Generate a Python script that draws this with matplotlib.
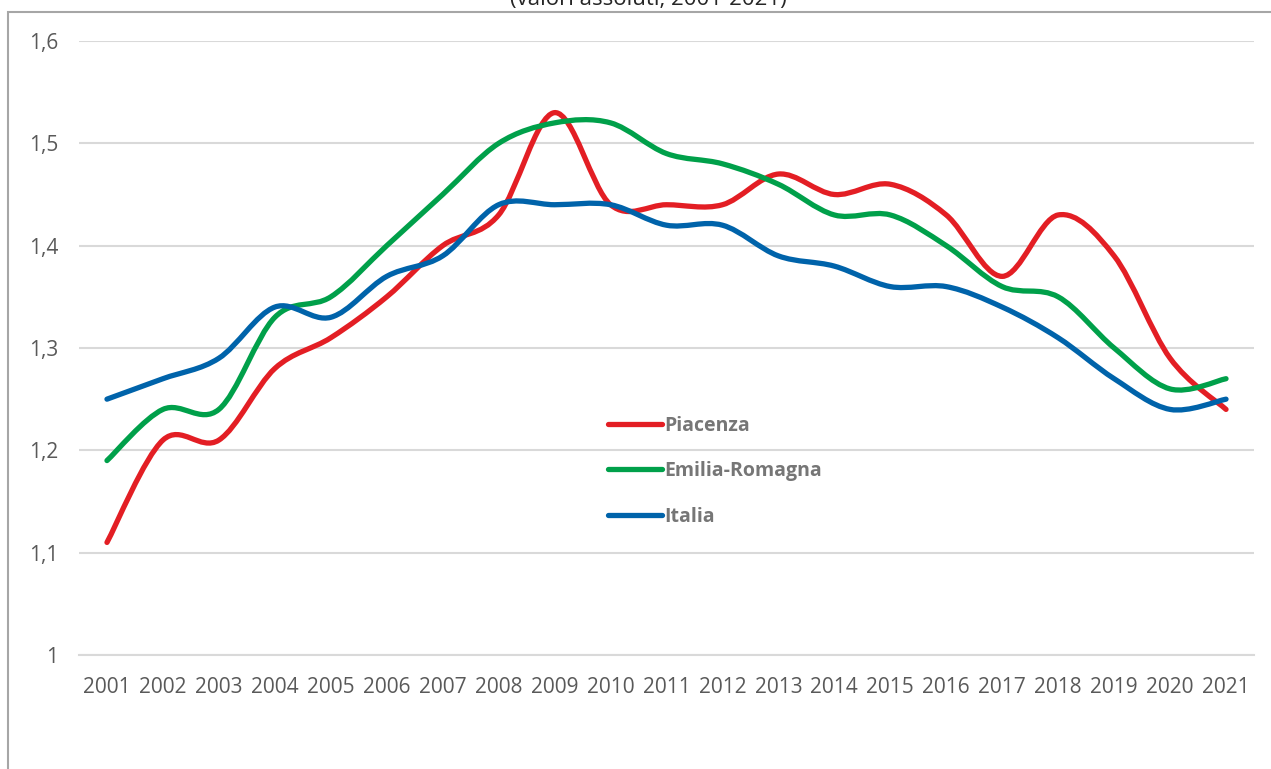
import matplotlib
matplotlib.use("Agg")
import matplotlib.pyplot as plt
from matplotlib import font_manager
from matplotlib.path import Path
from matplotlib.patches import PathPatch, Rectangle
from matplotlib.lines import Line2D

# data
years = list(range(2001, 2022))
piacenza = [1.11, 1.21, 1.21, 1.28, 1.31, 1.35, 1.40, 1.43, 1.53, 1.44, 1.44,
            1.44, 1.47, 1.45, 1.46, 1.43, 1.37, 1.43, 1.39, 1.29, 1.24]
emilia = [1.19, 1.24, 1.24, 1.33, 1.35, 1.40, 1.45, 1.50, 1.52, 1.52, 1.49,
          1.48, 1.46, 1.43, 1.43, 1.40, 1.36, 1.35, 1.30, 1.26, 1.27]
italia = [1.25, 1.27, 1.29, 1.34, 1.33, 1.37, 1.39, 1.44, 1.44, 1.44, 1.42,
          1.42, 1.39, 1.38, 1.36, 1.36, 1.34, 1.31, 1.27, 1.24, 1.25]
series = [("Piacenza", piacenza, "#E31E24"),
          ("Emilia-Romagna", emilia, "#00A04A"),
          ("Italia", italia, "#0063AA")]
yticks = [1.0, 1.1, 1.2, 1.3, 1.4, 1.5, 1.6]
title = "(valori assoluti, 2001-2021)"

names = {f.name for f in font_manager.fontManager.ttflist}
font = "Liberation Sans Narrow" if "Liberation Sans Narrow" in names else "Open Sans"
plt.rcParams["font.family"] = [font, "DejaVu Sans"]


def smooth_path(xs, ys):
    # Excel-like smoothed line: cubic Bezier segments with Catmull-Rom handles
    pts = list(zip(xs, ys))
    verts = [pts[0]]
    codes = [Path.MOVETO]
    n = len(pts)
    for i in range(n - 1):
        p0 = pts[max(i - 1, 0)]
        p1 = pts[i]
        p2 = pts[i + 1]
        p3 = pts[min(i + 2, n - 1)]
        c1 = (p1[0] + (p2[0] - p0[0]) / 6, p1[1] + (p2[1] - p0[1]) / 6)
        c2 = (p2[0] - (p3[0] - p1[0]) / 6, p2[1] - (p3[1] - p1[1]) / 6)
        verts += [c1, c2, p2]
        codes += [Path.CURVE4] * 3
    return Path(verts, codes)


W, H = 1271, 769
fig = plt.figure(figsize=(W / 100, H / 100), dpi=100)
ax = fig.add_axes([79 / W, 1 - 655 / H, (1254 - 79) / W, (655 - 41) / H])

handles = []
for name, vals, col in series:
    ax.add_patch(PathPatch(smooth_path(years, vals), facecolor="none",
                           edgecolor=col, lw=3.8, capstyle="round",
                           joinstyle="round", zorder=3))
    handles.append(Line2D([], [], color=col, lw=3.8, solid_capstyle="round",
                          label=name))

ax.set_xlim(2000.5, 2021.5)
ax.set_ylim(1.0, 1.6)
ax.set_xticks(years)
ax.set_xticklabels([str(y) for y in years])
ax.set_yticks(yticks)
ax.set_yticklabels(["1" if v == 1.0 else f"{v:.1f}".replace(".", ",") for v in yticks])
ax.tick_params(axis="both", length=0, labelsize=15, colors="#595959")
ax.tick_params(axis="x", pad=16)
ax.tick_params(axis="y", pad=15)
ax.grid(axis="y", color="#D9D9D9", lw=1.5)
ax.set_axisbelow(True)
for s in ["top", "right", "left"]:
    ax.spines[s].set_visible(False)
ax.spines["bottom"].set_color("#D9D9D9")
ax.spines["bottom"].set_linewidth(1.5)

leg = fig.legend(handles=handles, loc="upper left",
                 bbox_to_anchor=(608 / W, 1 - 416 / H), frameon=False,
                 borderpad=0, borderaxespad=0, handlelength=2.8,
                 handletextpad=0.1, labelspacing=1.3,
                 prop={"size": 14, "weight": "bold"})
for t in leg.get_texts():
    t.set_color("#767676")

fig.text(648 / W, 1 - 5 / H, title, ha="center", va="baseline",
         fontsize=16, color="#262626")

fig.patches.append(Rectangle((8 / W, -0.1), 1.2, (H - 12) / H + 0.1,
                             transform=fig.transFigure, fill=False,
                             edgecolor="#A6A6A6", lw=1.5))

fig.savefig("out.png", dpi=100)
